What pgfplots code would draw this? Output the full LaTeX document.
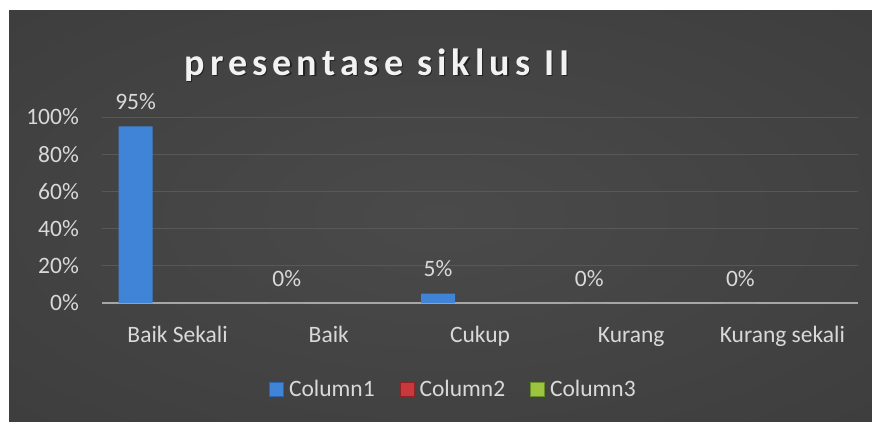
\documentclass[border=0pt]{standalone}
\usepackage{pgfplots}
\pgfplotsset{compat=1.18}
\usepackage{fontspec}
\setmainfont{Carlito}
\newfontfamily\titlefont[LetterSpace=13.5]{Carlito}
\definecolor{txt}{HTML}{D9D9D9}
\definecolor{gridc}{HTML}{585858}
\definecolor{axisc}{HTML}{A6A6A6}
\definecolor{bgin}{HTML}{4A4A4A}
\definecolor{bgmid}{HTML}{3E3E3E}
\definecolor{bgout}{HTML}{262626}
\definecolor{blueA}{HTML}{3F84D6}
\definecolor{blueB}{HTML}{2A64AE}
\definecolor{redA}{HTML}{C8393B}
\definecolor{redB}{HTML}{8E2224}
\definecolor{greenA}{HTML}{9BC53F}
\definecolor{greenB}{HTML}{6A8E26}
\pgfdeclareradialshading{bgshade}{\pgfpoint{0bp}{0bp}}{color(0bp)=(bgin); color(35bp)=(bgmid); color(72bp)=(bgout)}
\newcommand{\lfont}{\fontsize{23.5bp}{28bp}\selectfont}
\begin{document}
\begin{tikzpicture}[x=1bp,y=1bp]
\fill[white] (0,0) rectangle (872,421);
\useasboundingbox (0,0) rectangle (872,421);
\shade[shading=bgshade] (9,0) rectangle (872,410);
\node[anchor=base, text=black, opacity=0.5, inner sep=0pt] at (378.5,344.5) {\titlefont\bfseries\fontsize{38bp}{44bp}\selectfont presentase siklus II};
\node[anchor=base, text=white!95!black, inner sep=0pt] at (377,346) {\titlefont\bfseries\fontsize{38bp}{44bp}\selectfont presentase siklus II};
\begin{axis}[
  at={(102bp,118bp)}, anchor=south west,
  scale only axis, width=756bp, height=186bp,
  xmin=0.5, xmax=5.5, ymin=0, ymax=100,
  clip=false,
  axis x line*=bottom, axis y line*=left,
  x axis line style={draw=axisc, line width=2bp, -},
  y axis line style={draw=none},
  xtick={1,2,3,4,5},
  xticklabels={Baik Sekali, Baik, Cukup, Kurang, Kurang sekali},
  ytick={0,20,40,60,80,100},
  yticklabels={0\%,20\%,40\%,60\%,80\%,100\%},
  ymajorgrids,
  major grid style={draw=gridc, line width=0.8bp},
  major tick length=0pt,
  tick style={draw=none},
  tick label style={font=\lfont, text=txt, inner sep=0pt},
  yticklabel style={anchor=east, xshift=-23bp},
  xticklabel style={anchor=base, yshift=-39bp},
  legend columns=3,
  legend style={at={(0.4636,-0.4624)}, anchor=center, draw=none, fill=none,
    font=\lfont, text=txt, inner sep=0pt,
    nodes={inner sep=0pt},
    /tikz/every odd column/.append style={column sep=5bp},
    /tikz/every even column/.append style={column sep=25bp}},
]
\addplot[ybar, bar width=34bp, bar shift=-42bp, draw=none, fill=blueA,
  nodes near coords={\pgfmathprintnumber[assume math mode=true]{\pgfplotspointmeta}\%},
  every node near coord/.append style={anchor=base, xshift=-42bp, yshift=17bp, font=\lfont, text=txt, inner sep=0pt},
  legend image code/.code={\fill[blueA, draw=blueB, line width=0.8bp] (0bp,-7bp) rectangle (14bp,7bp);}]
  coordinates {(1,95) (2,0) (3,5) (4,0) (5,0)};
\addlegendentry{Column1}
\addlegendimage{legend image code/.code={\fill[redA, draw=redB, line width=0.8bp] (0bp,-7bp) rectangle (14bp,7bp);}}
\addlegendentry{Column2}
\addlegendimage{legend image code/.code={\fill[greenA, draw=greenB, line width=0.8bp] (0bp,-7bp) rectangle (14bp,7bp);}}
\addlegendentry{Column3}
\end{axis}
\end{tikzpicture}
\end{document}
